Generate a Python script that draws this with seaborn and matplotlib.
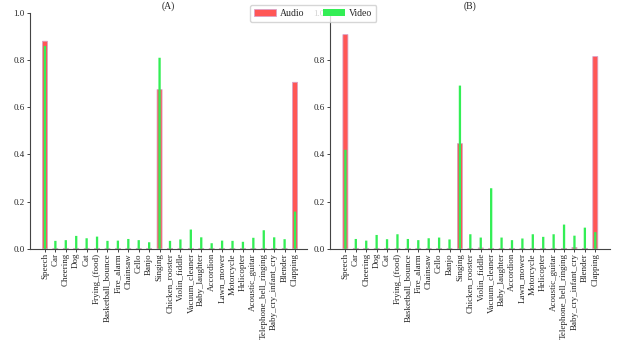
import matplotlib
matplotlib.use("Agg")
import matplotlib.pyplot as plt
import seaborn as sns
import pandas as pd

categories = ["Speech", "Car", "Cheering", "Dog", "Cat", "Frying_(food)",
              "Basketball_bounce", "Fire_alarm", "Chainsaw", "Cello", "Banjo",
              "Singing", "Chicken_rooster", "Violin_fiddle", "Vacuum_cleaner",
              "Baby_laughter", "Accordion", "Lawn_mower", "Motorcycle",
              "Helicopter", "Acoustic_guitar", "Telephone_bell_ringing",
              "Baby_cry_infant_cry", "Blender", "Clapping"]

audio_a = [0.88, 0.002, 0.002, 0.002, 0.002, 0.002, 0.002, 0.002, 0.002, 0.002,
           0.002, 0.675, 0.002, 0.002, 0.002, 0.002, 0.002, 0.002, 0.002, 0.002,
           0.002, 0.002, 0.002, 0.002, 0.706]
video_a = [0.86, 0.034, 0.037, 0.055, 0.045, 0.052, 0.034, 0.035, 0.042, 0.037,
           0.028, 0.81, 0.034, 0.040, 0.082, 0.049, 0.024, 0.035, 0.034, 0.030,
           0.047, 0.079, 0.049, 0.041, 0.158]

audio_b = [0.908, 0.002, 0.002, 0.002, 0.002, 0.002, 0.002, 0.002, 0.002, 0.002,
           0.002, 0.446, 0.002, 0.004, 0.002, 0.002, 0.002, 0.002, 0.002, 0.002,
           0.002, 0.002, 0.006, 0.002, 0.815]
video_b = [0.42, 0.042, 0.035, 0.059, 0.041, 0.062, 0.042, 0.037, 0.045, 0.048,
           0.040, 0.692, 0.062, 0.048, 0.257, 0.048, 0.037, 0.044, 0.062, 0.051,
           0.062, 0.103, 0.056, 0.090, 0.071]

panel_titles = ["(A)", "(B)"]

sns.set_theme(style="ticks")
plt.rcParams["font.family"] = ["Liberation Serif", "DejaVu Serif"]

AUDIO_COLOR = "#ff4d4d"
VIDEO_COLOR = "#33ee55"

fig = plt.figure(figsize=(6.24, 3.4), dpi=100)
ax_a = fig.add_axes([0.048, 0.268, 0.444, 0.694])
ax_b = fig.add_axes([0.529, 0.268, 0.449, 0.694])

panels = [(ax_a, audio_a, video_a, (-1.44, 25.15)),
          (ax_b, audio_b, video_b, (-1.47, 25.44))]

for (ax, audio, video, xlim), title in zip(panels, panel_titles):
    df = pd.DataFrame({"category": categories, "Audio": audio, "Video": video})
    sns.barplot(data=df, x="category", y="Audio", color=AUDIO_COLOR, width=0.48,
                saturation=1, alpha=0.95, edgecolor="#d8a0c8", linewidth=0.6,
                label="Audio", ax=ax)
    sns.barplot(data=df, x="category", y="Video", color=VIDEO_COLOR, width=0.22,
                saturation=1, edgecolor="none", label="Video", ax=ax)
    # keep narrow bars centred on their ticks instead of snapping to pixels
    for patch in ax.patches:
        patch.set_snap(False)
    ax.set_ylim(0, 1.0)
    ax.set_xlim(*xlim)
    ax.set_xlabel("")
    ax.set_ylabel("")
    ax.set_title(title, fontsize=7, pad=3)
    ax.tick_params(axis="x", labelrotation=90, labelsize=6.5, length=2, width=0.6, pad=1)
    ax.tick_params(axis="y", labelsize=6.5, length=2.5, width=0.6, pad=1.5)
    ax.set_yticks([0.0, 0.2, 0.4, 0.6, 0.8, 1.0])
    for side in ("top", "right"):
        ax.spines[side].set_visible(False)
    for side in ("left", "bottom"):
        ax.spines[side].set_linewidth(0.8)
        ax.spines[side].set_color("#444444")
    if ax.get_legend() is not None:
        ax.get_legend().remove()

handles, labels = ax_a.get_legend_handles_labels()
fig.legend(handles, labels, loc="upper center", bbox_to_anchor=(0.502, 1.0),
           ncol=2, fontsize=7, frameon=True, handlelength=2.3, columnspacing=1.9,
           borderpad=0.4, handletextpad=0.4)

fig.savefig("out.png", dpi=100)
